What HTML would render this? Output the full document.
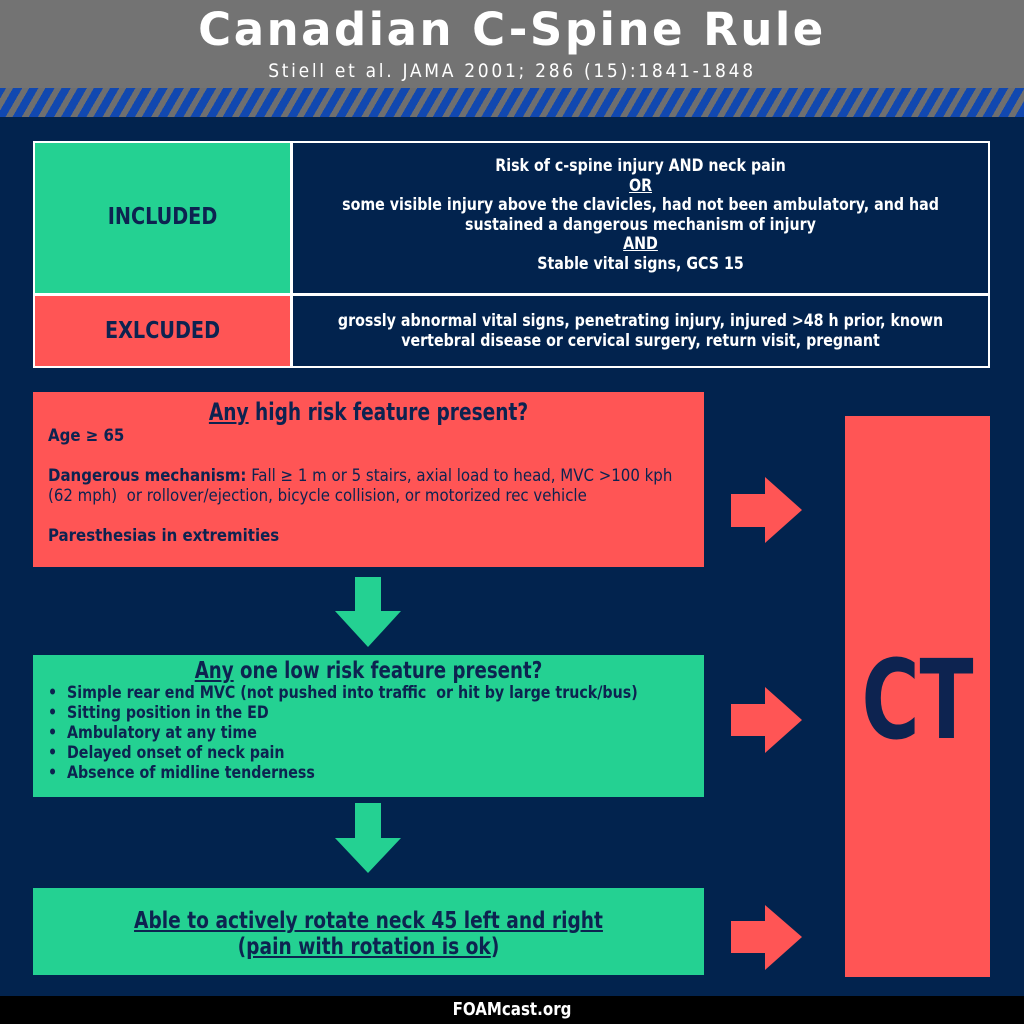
<!DOCTYPE html>
<html><head><meta charset="utf-8"><style>
*{margin:0;padding:0;box-sizing:border-box}
body{width:1024px;height:1024px;position:relative;overflow:hidden;background:#02234e;font-family:"Liberation Sans Narrow","DejaVu Sans",sans-serif;font-stretch:condensed;color:#0d2350}
.a{position:absolute}
.c{text-align:center;white-space:nowrap}
.b{font-weight:bold}
.nw{white-space:nowrap}
.s{transform:scaleX(0.93);transform-origin:center}
.h{transform:scaleX(0.86);transform-origin:center}
</style></head><body>
<div class="a" style="left:0;top:0;width:1024px;height:88px;background:#737373"></div>
<div class="a c b" style="left:0;top:3px;width:1024px;font-family:'DejaVu Sans',sans-serif;font-stretch:normal;font-size:45px;letter-spacing:2.5px;color:#fff">Canadian C-Spine Rule</div>
<div class="a c" style="left:0;top:60px;width:1024px;font-size:19px;letter-spacing:2.7px;color:#fff">Stiell et al. JAMA 2001; 286 (15):1841-1848</div>
<div class="a" style="left:0;top:88px;width:1024px;height:29px;background:repeating-linear-gradient(-60deg,#1148b0 0 8px,#6f6f6f 8px 14px)"></div>

<div class="a" style="left:33px;top:141px;width:957px;height:227px;border:2px solid #fff;background:#02234e"></div>
<div class="a" style="left:35px;top:143px;width:255px;height:150px;background:#24d192"></div>
<div class="a" style="left:35px;top:296px;width:255px;height:70px;background:#ff5555"></div>
<div class="a" style="left:290px;top:143px;width:3px;height:223px;background:#fff"></div>
<div class="a" style="left:35px;top:293px;width:953px;height:3px;background:#fff"></div>
<div class="a c b s" style="left:35px;top:204px;width:255px;font-size:23px">INCLUDED</div>
<div class="a c b s" style="left:35px;top:318px;width:255px;font-size:23px">EXLCUDED</div>
<div class="a c b s" style="left:293px;top:157px;width:695px;font-size:17px;line-height:19.5px;color:#fff">Risk of c-spine injury AND neck pain<br><u>OR</u><br>some visible injury above the clavicles, had not been ambulatory, and had<br>sustained a dangerous mechanism of injury<br><u>AND</u><br>Stable vital signs, GCS 15</div>
<div class="a c b s" style="left:293px;top:312px;width:695px;font-size:17px;line-height:19.5px;color:#fff">grossly abnormal vital signs, penetrating injury, injured &gt;48 h prior, known<br>vertebral disease or cervical surgery, return visit, pregnant</div>

<div class="a" style="left:33px;top:392px;width:671px;height:175px;background:#ff5555"></div>
<div class="a c b h" style="left:33px;top:398px;width:671px;font-size:24px"><u>Any</u> high risk feature present?</div>
<div class="a nw" style="left:48px;top:426px;font-size:17px;line-height:20px;transform:scaleX(0.98);transform-origin:left"><b>Age ≥ 65</b><br><br><b>Dangerous mechanism:</b> Fall ≥ 1 m or 5 stairs, axial load to head, MVC &gt;100 kph<br>(62 mph)&nbsp; or rollover/ejection, bicycle collision, or motorized rec vehicle<br><br><b>Paresthesias in extremities</b></div>

<svg class="a" style="left:0;top:0" width="1024" height="1024">
<polygon points="355,577 381,577 381,611 401,611 368,647 335,611 355,611" fill="#24d192"/>
<polygon points="355,803 381,803 381,838 401,838 368,873 335,838 355,838" fill="#24d192"/>
<polygon points="731,494 765,494 765,477 802,510 765,543 765,527 731,527" fill="#ff5555"/>
<polygon points="731,704 765,704 765,687 802,720 765,753 765,736 731,736" fill="#ff5555"/>
<polygon points="731,921 765,921 765,905 802,937 765,970 765,953 731,953" fill="#ff5555"/>
</svg>

<div class="a" style="left:33px;top:655px;width:671px;height:142px;background:#24d192"></div>
<div class="a c b" style="left:33px;top:658px;width:671px;font-size:23px;transform:scaleX(0.88)"><u>Any</u> one low risk feature present?</div>
<div class="a nw b" style="left:48px;top:683px;font-size:17px;line-height:20px;transform:scaleX(0.93);transform-origin:left">•&nbsp;&nbsp;Simple rear end MVC (not pushed into traffic&nbsp; or hit by large truck/bus)<br>•&nbsp;&nbsp;Sitting position in the ED<br>•&nbsp;&nbsp;Ambulatory at any time<br>•&nbsp;&nbsp;Delayed onset of neck pain<br>•&nbsp;&nbsp;Absence of midline tenderness</div>

<div class="a" style="left:33px;top:888px;width:671px;height:87px;background:#24d192"></div>
<div class="a c b" style="left:33px;top:908px;width:671px;font-size:23px;line-height:26px;transform:scaleX(0.9)"><u>Able to actively rotate neck 45 left and right </u><br>(<u>pain with rotation is ok</u>)</div>

<div class="a" style="left:845px;top:416px;width:145px;height:561px;background:#ff5555"></div>
<div class="a c b" style="left:845px;top:640px;width:145px;font-size:110px;line-height:120px;transform:scaleX(0.8);transform-origin:center">CT</div>

<div class="a" style="left:0;top:996px;width:1024px;height:28px;background:#000"></div>
<div class="a c b s" style="left:0;top:999px;width:1024px;font-size:18px;color:#fff">FOAMcast.org</div>
</body></html>
